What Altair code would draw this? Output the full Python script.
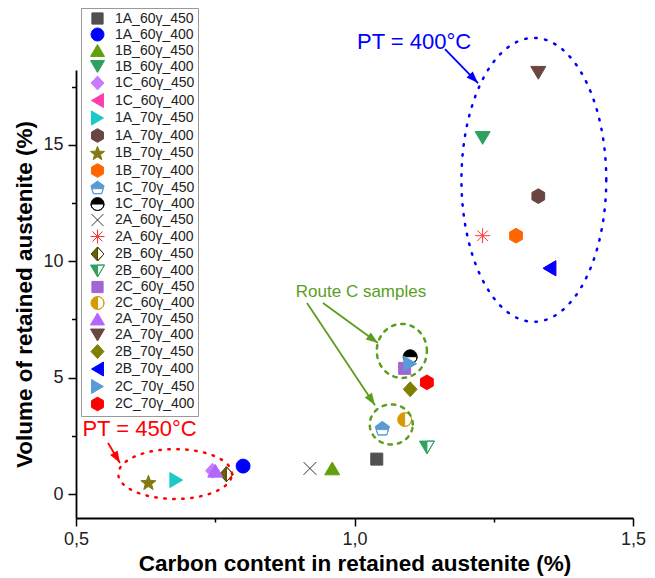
import altair as alt
import pandas as pd
import numpy as np

# ---------------- data ----------------
series = ["1A_60γ_450", "1A_60γ_400", "1B_60γ_450", "1B_60γ_400", "1C_60γ_450", "1C_60γ_400",
          "1A_70γ_450", "1A_70γ_400", "1B_70γ_450", "1B_70γ_400", "1C_70γ_450", "1C_70γ_400",
          "2A_60γ_450", "2A_60γ_400", "2B_60γ_450", "2B_60γ_400", "2C_60γ_450", "2C_60γ_400",
          "2A_70γ_450", "2A_70γ_400", "2B_70γ_450", "2B_70γ_400", "2C_70γ_450", "2C_70γ_400"]
carbon = [1.04, 0.80, 0.96, 1.23, 0.745, 1.35, 0.68, 1.33, 0.63, 1.29, 1.05, 1.10,
          0.92, 1.23, 0.77, 1.13, 1.09, 1.09, 0.75, 1.33, 1.10, 1.35, 1.10, 1.13]
volume = [1.5, 1.2, 1.1, 15.3, 1.0, 9.7, 0.6, 12.8, 0.5, 11.1, 2.8, 5.9,
          1.1, 11.1, 0.85, 2.0, 5.4, 3.2, 1.0, 18.1, 4.5, 9.7, 5.6, 4.8]
fill_colors = ["#505050", "#0000FF", "#62A00C", "#2EA060", "#C77CFF", "#FF3DAE",
               "#1CC8C8", "#6B4541", "#807A10", "#FF6600", "#5B9BD5", "#000000",
               "transparent", "transparent", "#6B6100", "#2EA060", "#A066D3", "#D49A00",
               "#B266FF", "#6B4541", "#808000", "#0000FF", "#5B9BD5", "#FF0000"]
stroke_colors = ["#505050", "#0000FF", "#62A00C", "#2EA060", "#C77CFF", "#FF3DAE",
                 "#1CC8C8", "#6B4541", "#807A10", "#FF6600", "#5B9BD5", "#000000",
                 "#333333", "#FF3333", "#4A3F00", "#2EA060", "#A066D3", "#D49A00",
                 "#B266FF", "#6B4541", "#808000", "#0000FF", "#5B9BD5", "#FF0000"]
shape_keys = ["square", "circle", "tri_up", "tri_down", "diamond", "tri_left",
              "tri_right", "hexagon", "star", "hexagon", "pentagon_half", "circle_half_top",
              "x", "asterisk", "diamond_half", "tri_down_half", "square", "circle_half_left",
              "tri_up", "tri_down", "diamond", "tri_left", "tri_right", "hexagon"]


# ---------------- marker geometry ----------------
def path(pts):
    return "M" + "L".join(f"{x:.3f},{y:.3f}" for x, y in pts) + "Z"


def reg_poly(n, r, start):
    return [(r * np.cos(np.radians(start + 360 * k / n)),
             r * np.sin(np.radians(start + 360 * k / n))) for k in range(n)]


def clip(pts, a, b, c):
    out = []
    n = len(pts)
    for i in range(n):
        p, q = pts[i], pts[(i + 1) % n]
        fp = a * p[0] + b * p[1] + c
        fq = a * q[0] + b * q[1] + c
        if fp >= 0:
            out.append(p)
        if (fp >= 0) != (fq >= 0):
            t = fp / (fp - fq)
            out.append((p[0] + t * (q[0] - p[0]), p[1] + t * (q[1] - p[1])))
    return out


def half(pts, a, b, c):
    hole = clip(pts, a, b, c)[::-1]
    return path(pts) + path(hole)


sq = [(-0.8, -0.8), (0.8, -0.8), (0.8, 0.8), (-0.8, 0.8)]
circ = reg_poly(40, 0.92, 0)
tup = [(0, -0.85), (1, 0.85), (-1, 0.85)]
tdown = [(0, 0.85), (-1, -0.85), (1, -0.85)]
tleft = [(-0.85, 0), (0.85, -1), (0.85, 1)]
tright = [(0.85, 0), (-0.85, 1), (-0.85, -1)]
diam = [(0, -1), (0.92, 0), (0, 1), (-0.92, 0)]
hexa = reg_poly(6, 0.98, -90)
penta = reg_poly(5, 1.0, -90)
star = [((1.05 if k % 2 == 0 else 0.45) * np.cos(np.radians(-90 + 36 * k)),
         (1.05 if k % 2 == 0 else 0.45) * np.sin(np.radians(-90 + 36 * k)) + 0.1) for k in range(10)]

shape_paths = {
    "square": path(sq),
    "circle": path(circ),
    "tri_up": path(tup),
    "tri_down": path(tdown),
    "tri_left": path(tleft),
    "tri_right": path(tright),
    "diamond": path(diam),
    "hexagon": path(hexa),
    "star": path(star),
    "pentagon_half": half(penta, 0, 1, -0.1),
    "circle_half_top": half(circ, 0, 1, 0),
    "circle_half_left": half(circ, 1, 0, 0),
    "diamond_half": half(diam, 1, 0, 0),
    "tri_down_half": half(tdown, 1, 0, 0),
    "x": "M-0.85,-0.85L0.85,0.85M-0.85,0.85L0.85,-0.85",
    "asterisk": "M0,-1L0,1M-1,0L1,0M-0.71,-0.71L0.71,0.71M-0.71,0.71L0.71,-0.71",
}
shapes = [shape_paths[k] for k in shape_keys]

df = pd.DataFrame({"series": series, "carbon": carbon, "volume": volume,
                   "order": list(range(len(series)))})

# ---------------- scales & axes ----------------
xs = alt.Scale(domain=[0.5, 1.5], nice=False, zero=False)
ys = alt.Scale(domain=[-1.03, 18.22], nice=False, zero=False)
FONT = "Liberation Sans, Arial, sans-serif"
X_TITLE = "Carbon content in retained austenite (%)"
Y_TITLE = "Volume of retained austenite (%)"

x_axis = alt.Axis(values=[0.5, 0.75, 1.0, 1.25, 1.5],
                  labelExpr="datum.value % 0.5 == 0 ? replace(format(datum.value, '.1f'), '.', ',') : ''",
                  tickSize={"condition": {"test": "datum.value % 0.5 != 0", "value": 4}, "value": 8},
                  grid=False, domainColor="black", domainWidth=1.8, tickColor="black", tickWidth=1.5,
                  labelFont=FONT, labelFontSize=18, labelColor="#222", labelPadding=4,
                  labelFlush=False, labelOverlap=False,
                  titleFont=FONT, titleFontSize=22.5, titleFontWeight="bold", titleColor="black",
                  titlePadding=4)
y_axis = alt.Axis(values=[0, 2.5, 5, 7.5, 10, 12.5, 15, 17.5],
                  labelExpr="datum.value % 5 == 0 ? datum.label : ''",
                  tickSize={"condition": {"test": "datum.value % 5 != 0", "value": 4.5}, "value": 8},
                  grid=False, domainColor="black", domainWidth=1.8, tickColor="black", tickWidth=1.5,
                  labelFont=FONT, labelFontSize=18, labelColor="#222", labelPadding=5,
                  labelFlush=False, labelOverlap=False,
                  titleFont=FONT, titleFontSize=22.5, titleFontWeight="bold", titleColor="black",
                  titlePadding=6)


def X(field):
    return alt.X(field, scale=xs, axis=x_axis, title=X_TITLE)


def Y(field):
    return alt.Y(field, scale=ys, axis=y_axis, title=Y_TITLE)


leg = alt.Legend(orient="none", legendX=5, legendY=-62, title=None,
                 padding=3, symbolOffset=6, labelOffset=10, rowPadding=-1.5,
                 symbolSize=196, symbolStrokeWidth=1, labelFont=FONT, labelFontSize=14,
                 labelColor="#222", strokeColor="#999999", fillColor="white", labelLimit=200)

points = alt.Chart(df).mark_point(filled=True, opacity=1, size=225, strokeWidth=1).encode(
    x=X("carbon:Q"),
    y=Y("volume:Q"),
    fill=alt.Fill("series:N", scale=alt.Scale(domain=series, range=fill_colors), legend=leg),
    stroke=alt.Stroke("series:N", scale=alt.Scale(domain=series, range=stroke_colors), legend=leg),
    shape=alt.Shape("series:N", scale=alt.Scale(domain=series, range=shapes), legend=leg),
    order=alt.Order("order:Q"),
)

# ---------------- annotations ----------------
ellipses = [  # cx, cy, rx, ry, color, dash
    (1.322, 13.5, 0.130, 6.10, "#0000FF", [1.5, 8.5]),
    (0.678, 0.86, 0.102, 1.07, "#FF0000", [1.5, 7.5]),
    (1.085, 6.15, 0.045, 1.16, "#5B9E1E", [3.5, 6]),
    (1.066, 2.99, 0.0386, 0.86, "#5B9E1E", [3.5, 6]),
]
arrows = [  # x0, y0, x1, y1, color
    (1.1625, 19.12, 1.2217, 17.66, "#0000FF"),
    (0.5575, 2.19, 0.579, 1.33, "#FF0000"),
    (0.9434, 8.21, 1.0422, 6.49, "#5B9E1E"),
    (0.9147, 8.21, 1.0368, 3.82, "#5B9E1E"),
]
texts = [  # x, y, text, color, size
    (1.107, 19.42, "PT = 400°C", "#0000FF", 22),
    (0.614, 2.80, "PT = 450°C", "#FF0000", 22),
    (1.0117, 8.68, "Route C samples", "#5B9E1E", 17),
]

layers = [points]
t = np.linspace(0, 2 * np.pi, 181)
for i, (cx, cy, rx, ry, col, dash) in enumerate(ellipses):
    edf = pd.DataFrame({"x": cx + rx * np.cos(t), "y": cy + ry * np.sin(t), "i": np.arange(len(t))})
    layers.append(alt.Chart(edf).mark_line(color=col, strokeWidth=2.5, strokeDash=dash,
                                            strokeCap="round").encode(
        x=X("x:Q"), y=Y("y:Q"), order=alt.Order("i:Q")))

PXX, PXY = 557.0, 23.27
head = "M0,0L-0.36,1L0.36,1Z"
for (x0, y0, x1, y1, col) in arrows:
    adf = pd.DataFrame({"x": [x0, x1], "y": [y0, y1], "i": [0, 1]})
    layers.append(alt.Chart(adf).mark_line(color=col, strokeWidth=1.8).encode(
        x=X("x:Q"), y=Y("y:Q"), order=alt.Order("i:Q")))
    ang = float(np.degrees(np.arctan2((x1 - x0) * PXX, (y1 - y0) * PXY))) % 360
    hdf = pd.DataFrame({"x": [x1], "y": [y1]})
    layers.append(alt.Chart(hdf).mark_point(shape=head, filled=True, color=col, opacity=1,
                                             size=576, angle=ang).encode(
        x=X("x:Q"), y=Y("y:Q")))

for (x, y, txt, col, fs) in texts:
    tdf = pd.DataFrame({"x": [x], "y": [y], "t": [txt]})
    layers.append(alt.Chart(tdf).mark_text(color=col, fontSize=fs, font=FONT,
                                            align="center", baseline="middle").encode(
        x=X("x:Q"), y=Y("y:Q"), text="t:N"))

chart = alt.layer(*layers).properties(
    width=557, height=448,
    padding={"left": 76, "top": 70, "right": 22, "bottom": 60},
    autosize=alt.AutoSizeParams(type="none"),
).configure_view(stroke=None)

chart.save("out.html", embed_options={"renderer": "svg", "actions": False})
